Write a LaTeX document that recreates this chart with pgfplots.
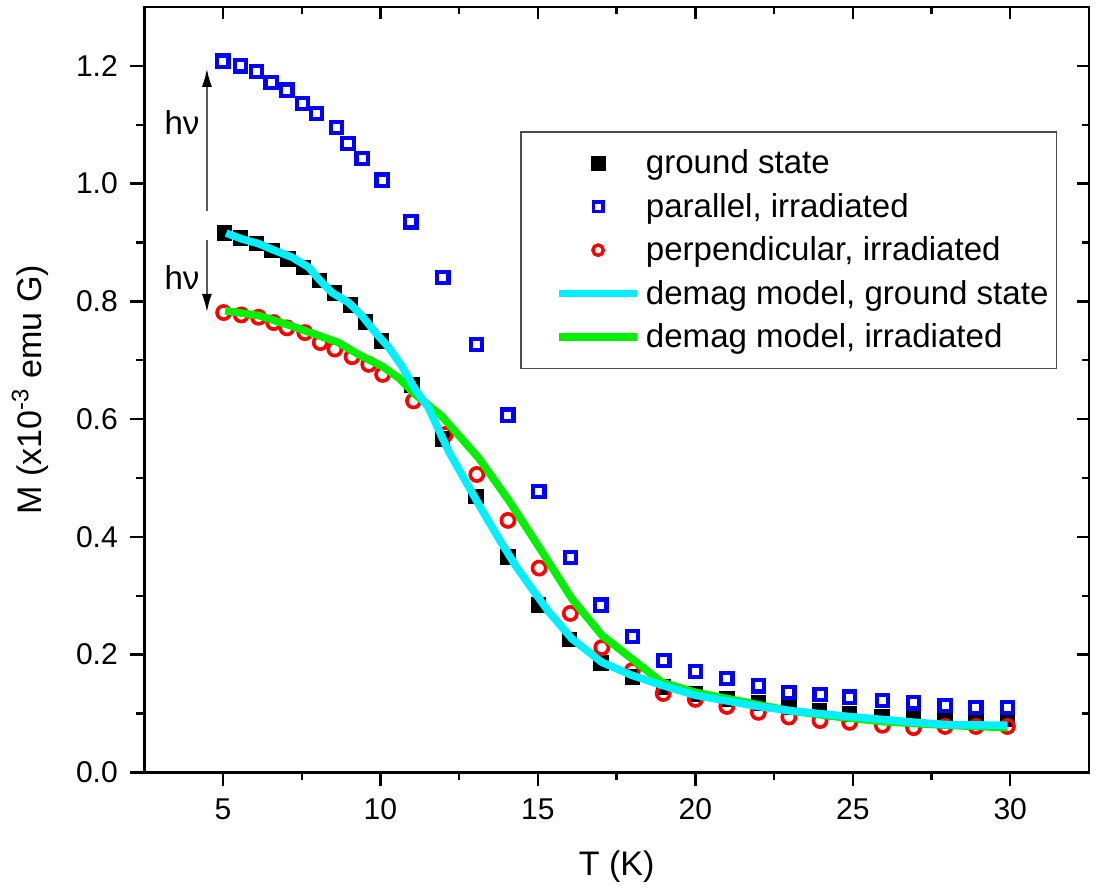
\documentclass[border=0pt]{standalone}
\usepackage{fontspec}
\setmainfont{Liberation Sans}
\usepackage{pgfplots}
\pgfplotsset{compat=1.18}
\usetikzlibrary{arrows.meta}

\definecolor{gsblack}{RGB}{0,0,0}
\definecolor{parblue}{RGB}{0,0,255}
\definecolor{perpred}{RGB}{255,0,0}
\definecolor{modcyan}{RGB}{0,240,255}
\definecolor{modgreen}{RGB}{0,240,0}

\begin{document}
\begin{tikzpicture}
\begin{axis}[
    name=main,
    scale only axis,
    width=471.5pt, height=382pt,
    xmin=2.5, xmax=32.5, ymin=0, ymax=1.3,
    clip marker paths=true,
    xtick={5,10,...,30},
    ytick={0,0.2,...,1.2},
    minor x tick num=1,
    minor y tick num=1,
    xtick pos=bottom, ytick pos=left,
    tick align=outside,
    major tick length=7pt, minor tick length=4pt,
    every tick/.style={black, line width=1.2pt},
    axis line style={line width=1.3pt},
    /pgf/number format/assume math mode=true,
    yticklabel={\pgfmathprintnumber[fixed,fixed zerofill,precision=1]{\tick}},
    tick label style={font=\fontsize{15}{18}\selectfont},
    yticklabel style={inner sep=0pt, xshift=-6pt},
    xticklabel style={inner sep=0pt, yshift=-6pt},
    xlabel={T (K)},
    ylabel={M (x10\textsuperscript{-3} emu G)},
    label style={font=\fontsize{17}{20}\selectfont},
    xlabel style={at={(axis description cs:0.5,-0.123)}, anchor=center},
    ylabel style={at={(axis description cs:-0.121,0.5)}, anchor=center, rotate=0},
    legend style={at={(axis description cs:0.398,0.838)}, anchor=north west,
        draw=black!70, line width=0.9pt,
        font=\fontsize{16.5}{19.5}\selectfont,
        inner xsep=2pt, inner ysep=7pt, row sep=4.2pt,
        /tikz/every odd column/.append style={column sep=0.5pt}},
    legend cell align=left,
    legend image code/.code={\path (-15pt,0pt); \draw[mark repeat=2,mark phase=2,#1] plot coordinates {(0pt,0pt) (19.5pt,0pt) (39pt,0pt)};},
]

% ground state
\addplot[forget plot, only marks, mark=square*, mark size=3.6pt, draw=gsblack, fill=gsblack, line width=0.5pt] coordinates {
(5.05,0.916) (5.55,0.908) (6.07,0.898) (6.55,0.886) (7.07,0.872) (7.55,0.858)
(8.07,0.835) (8.55,0.814) (9.05,0.794) (9.53,0.765) (10.03,0.733) (11.0,0.658)
(11.97,0.566) (13.03,0.469) (14.05,0.366) (15.02,0.284) (16.0,0.226) (17.0,0.186)
(18.0,0.162) (18.98,0.145) (20.0,0.133) (21.0,0.125) (22.0,0.118) (22.98,0.110)
(23.95,0.105) (24.9,0.099) (25.93,0.095) (26.93,0.094) (27.93,0.091) (28.91,0.090)
(29.91,0.090)
};

% parallel, irradiated
\addplot[forget plot, only marks, mark=square, mark size=2.8pt, draw=parblue, line width=2.1pt] coordinates {
(5.0,1.208) (5.55,1.200) (6.07,1.190) (6.53,1.172) (7.03,1.159) (7.53,1.136)
(7.97,1.119) (8.6,1.095) (8.97,1.068) (9.42,1.043) (10.05,1.006) (10.97,0.935)
(11.98,0.841) (13.05,0.727) (14.05,0.607) (15.03,0.477) (16.03,0.365) (17.0,0.284)
(18.0,0.231) (19.0,0.190) (20.0,0.171) (21.0,0.159) (22.0,0.147) (22.97,0.136)
(23.96,0.132) (24.9,0.128) (25.94,0.122) (26.93,0.118) (27.93,0.114) (28.91,0.110)
(29.91,0.110)
};

% perpendicular, irradiated
\addplot[forget plot, only marks, mark=o, mark size=3.3pt, draw=perpred, line width=1.8pt] coordinates {
(5.02,0.781) (5.58,0.777) (6.13,0.773) (6.61,0.764) (7.03,0.755) (7.6,0.747)
(8.09,0.730) (8.55,0.719) (9.1,0.706) (9.63,0.693) (10.07,0.676) (11.05,0.631)
(12.06,0.574) (13.06,0.506) (14.05,0.428) (15.04,0.347) (16.03,0.270) (17.03,0.212)
(18.0,0.173) (18.98,0.134) (20.0,0.124) (21.0,0.112) (22.0,0.102) (22.97,0.094)
(23.96,0.088) (24.9,0.085) (25.94,0.080) (26.93,0.076) (27.93,0.078) (28.91,0.078)
(29.91,0.078)
};

% demag model, irradiated
\addplot[forget plot, no markers, modgreen, line width=3.8pt] coordinates {
(5.07,0.784) (6.13,0.776) (7.19,0.758) (7.93,0.744) (8.67,0.730) (9.3,0.710)
(10.05,0.690) (10.58,0.670) (11.1,0.642) (11.95,0.605) (13.12,0.534) (14.1,0.460)
(15.13,0.375) (16.08,0.295) (17.03,0.233) (17.98,0.193) (18.94,0.153) (20.0,0.136)
(21.05,0.125) (22.0,0.115) (22.97,0.105) (24.23,0.096) (26.0,0.086) (28.0,0.080)
(29.91,0.076)
};

% demag model, ground state
\addplot[forget plot, no markers, modcyan, line width=3.8pt] coordinates {
(5.1,0.916) (5.6,0.906) (6.13,0.898) (6.66,0.886) (7.19,0.875) (7.72,0.858)
(8.04,0.838) (8.46,0.815) (8.99,0.798) (9.41,0.776) (9.84,0.747) (10.26,0.722)
(10.68,0.690) (11.1,0.651) (11.53,0.619) (12.17,0.545) (13.22,0.446) (13.75,0.398)
(14.28,0.352) (14.81,0.312) (15.34,0.273) (16.08,0.227) (17.03,0.187) (17.98,0.165)
(18.94,0.148) (20.0,0.131) (20.95,0.122) (22.0,0.112) (22.97,0.105) (24.86,0.095)
(26.98,0.085) (28.04,0.081) (29.91,0.080)
};

\addlegendimage{only marks, mark=square*, mark size=3.3pt, draw=gsblack, fill=gsblack}
\addlegendentry{ground state}
\addlegendimage{only marks, mark=square, mark size=2.3pt, draw=parblue, line width=1.9pt}
\addlegendentry{parallel, irradiated}
\addlegendimage{only marks, mark=o, mark size=2.6pt, draw=perpred, line width=1.7pt}
\addlegendentry{perpendicular, irradiated}
\addlegendimage{no markers, modcyan, line width=3.8pt}
\addlegendentry{demag model, ground state}
\addlegendimage{no markers, modgreen, line width=3.8pt}
\addlegendentry{demag model, irradiated}

% photo-induced changes
\draw[-{Latex[length=9pt,width=5pt,color=black]}, black!65, line width=0.8pt]
    (axis cs:4.49,0.954) -- (axis cs:4.49,1.195);
\draw[-{Latex[length=9pt,width=5pt,color=black]}, black!65, line width=0.8pt]
    (axis cs:4.49,0.905) -- (axis cs:4.49,0.782);
\node[font=\fontsize{16.5}{19.5}\selectfont] at (axis cs:3.70,1.103) {hν};
\node[font=\fontsize{16.5}{19.5}\selectfont] at (axis cs:3.70,0.840) {hν};
\end{axis}

% mirrored ticks pointing inward on top and right
\begin{axis}[
    scale only axis,
    width=471.5pt, height=382pt,
    xmin=2.5, xmax=32.5, ymin=0, ymax=1.3,
    xtick={5,10,...,30},
    ytick={0,0.2,...,1.2},
    minor x tick num=1,
    minor y tick num=1,
    xtick pos=top, ytick pos=right,
    tick align=inside,
    major tick length=6pt, minor tick length=3.5pt,
    every tick/.style={black, line width=1.2pt},
    axis line style={line width=1.3pt},
    xticklabels={}, yticklabels={},
]
\end{axis}

\pgfresetboundingbox
\useasboundingbox ([shift={(-72pt,-58.5pt)}]main.south west) rectangle ([shift={(8pt,3.5pt)}]main.north east);
\end{tikzpicture}
\end{document}
